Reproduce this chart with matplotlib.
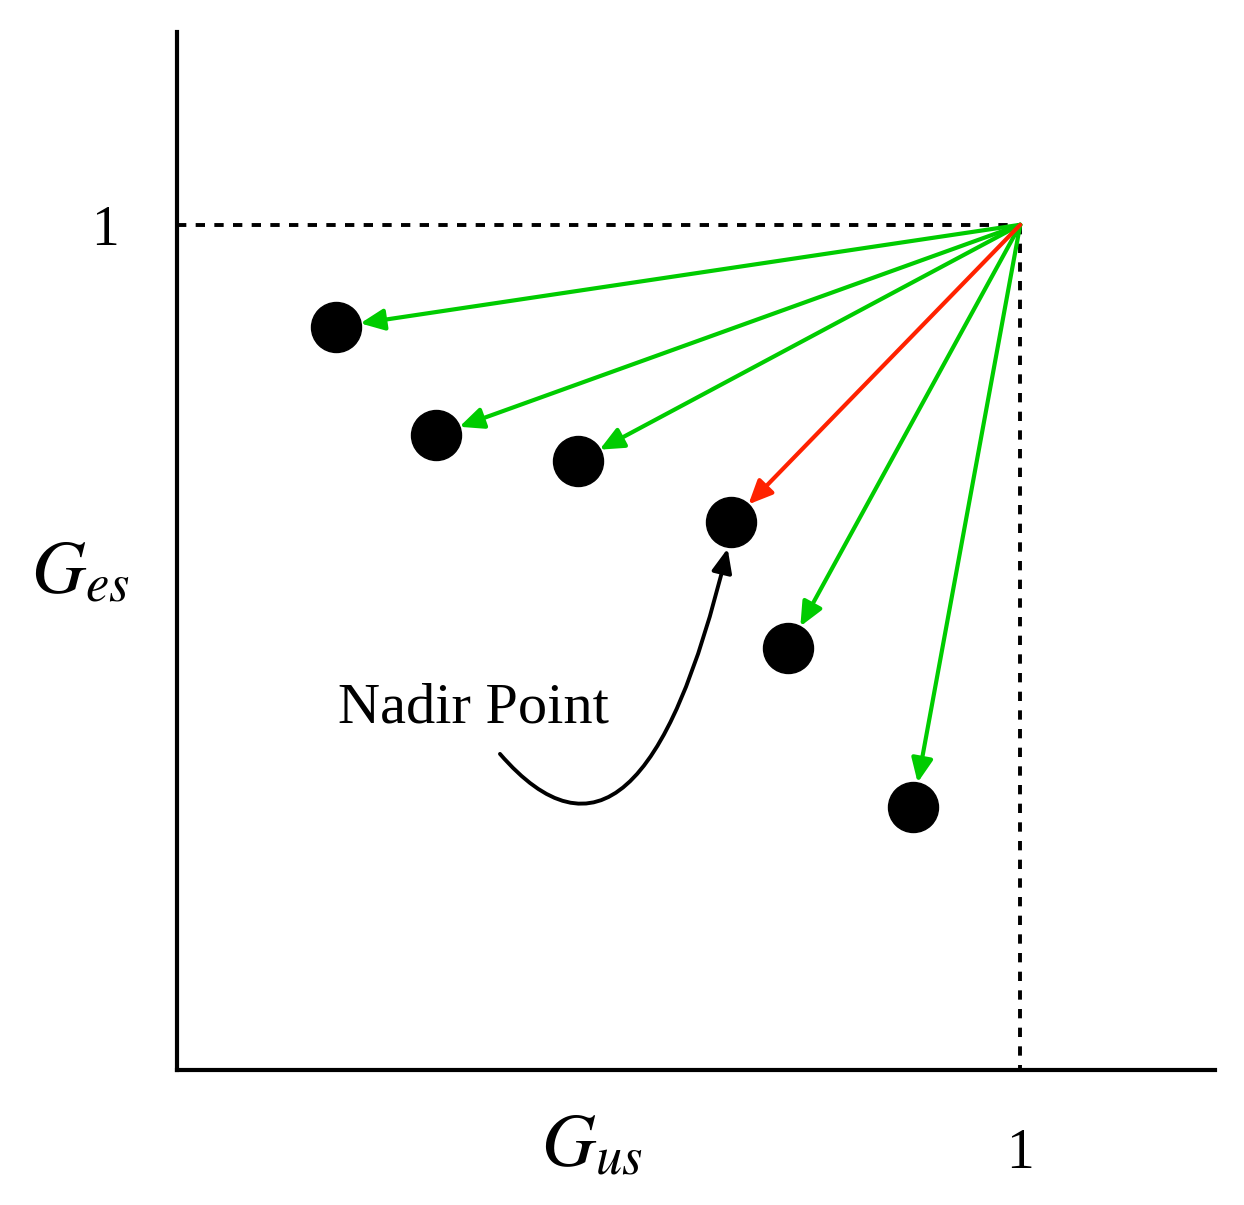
import matplotlib
matplotlib.use("Agg")
import matplotlib.pyplot as plt
from matplotlib.patches import FancyArrowPatch
from matplotlib.path import Path

plt.rcParams['mathtext.fontset'] = 'stix'
plt.rcParams['font.family'] = ['Liberation Serif', 'DejaVu Serif']

# Solution points (G_us, G_es)
g_us = [0.188, 0.307, 0.475, 0.657, 0.725, 0.873]
g_es = [0.879, 0.751, 0.720, 0.648, 0.499, 0.311]
arrow_colors = ['#00cc00', '#00cc00', '#00cc00', '#ff2200', '#00cc00', '#00cc00']
ideal = (1.0, 1.0)

# Nadir annotation curve (quadratic bezier: start, control, end)
nadir_curve_x = [0.383, 0.549, 0.653]
nadir_curve_y = [0.374, 0.183, 0.617]

fig = plt.figure(figsize=(12.44, 12.05), dpi=100)
ax = fig.add_axes([0.1423, 0.1120, 0.8344, 0.8614])
ax.set_xlim(0, 1.231)
ax.set_ylim(0, 1.228)

for s in ['top', 'right']:
    ax.spines[s].set_visible(False)
for s in ['left', 'bottom']:
    ax.spines[s].set_linewidth(3.0)

ax.set_xticks([1])
ax.set_xticklabels(['1'])
ax.set_yticks([1])
ax.set_yticklabels(['1'])
ax.tick_params(axis='both', length=0, labelsize=40)
ax.tick_params(axis='x', pad=42)
ax.tick_params(axis='y', pad=42)

# dashed reference lines
ax.plot([0, ideal[0]], [ideal[1], ideal[1]], color='black', lw=2.8,
        dashes=(2.4, 2.4), zorder=1)
ax.plot([ideal[0], ideal[0]], [ideal[1], 0], color='black', lw=2.8,
        dashes=(2.4, 2.4), zorder=1)

# points
ax.plot(g_us, g_es, 'o', color='black', markersize=36, zorder=3)

# arrows from ideal point
for x, y, c in zip(g_us, g_es, arrow_colors):
    ax.annotate('', xy=(x, y), xytext=ideal,
                arrowprops=dict(arrowstyle='-|>,head_length=0.8,head_width=0.36',
                                mutation_scale=18, color=c, lw=3.0,
                                shrinkA=0, shrinkB=18),
                zorder=4 if c.startswith('#ff') else 2)

# Nadir Point label and curved arrow
path = Path(list(zip(nadir_curve_x, nadir_curve_y)),
            [Path.MOVETO, Path.CURVE3, Path.CURVE3])
curve = FancyArrowPatch(path=path,
                        arrowstyle='-|>,head_length=0.8,head_width=0.34',
                        mutation_scale=18, color='black', lw=2.8,
                        transform=ax.transData)
ax.add_patch(curve)
ax.text(0.352, 0.428, 'Nadir Point', fontsize=42, ha='center', va='center')

# axis labels
fig.text(80 / 1244, 1 - 575 / 1205, r'$G_{es}$', fontsize=54,
         ha='center', va='center')
fig.text(592 / 1244, 1 - 1148 / 1205, r'$G_{us}$', fontsize=54,
         ha='center', va='center')

fig.savefig('out.png', dpi=100)
